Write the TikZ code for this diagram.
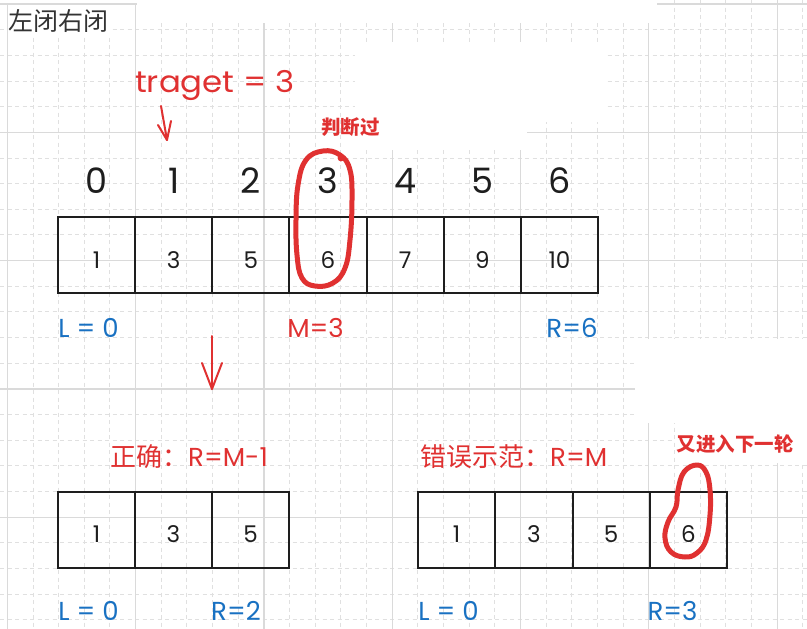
\documentclass[tikz,border=0pt]{standalone}
\usepackage{fontspec}
\setmainfont{Poppins}
\newfontfamily\widefont[FakeStretch=1.08]{Poppins}
\newfontfamily\cjk{Noto Sans CJK SC}
\definecolor{exred}{HTML}{E03131}
\definecolor{exblue}{HTML}{1971C2}
\definecolor{exblack}{HTML}{1E1E1E}
\definecolor{titlegray}{HTML}{333333}
\definecolor{gridsolid}{HTML}{DADADA}
\definecolor{griddash}{HTML}{E0E0E0}
\tikzset{
  gridd/.style={draw=griddash, line width=0.9pt, dash pattern=on 4pt off 3.5pt},
  grids/.style={draw=gridsolid, line width=1.2pt},
  cell/.style={draw=exblack, line width=2pt, minimum height=76pt, inner sep=0pt,
    text height=26pt, text depth=0pt, text=exblack, font=\fontsize{23}{26}\selectfont},
  idx/.style={inner sep=0pt, text=exblack, font=\fontsize{35}{40}\selectfont},
  bluelab/.style={inner sep=0pt, text=exblue, font=\fontsize{26}{30}\selectfont},
  redlab/.style={inner sep=0pt, text=exred, font=\fontsize{26}{30}\selectfont},
  boldnote/.style={inner sep=0pt, text=exred, font=\cjk\bfseries\fontsize{19.5}{22}\selectfont},
  redarrow/.style={draw=exred, line width=2pt, line cap=round, line join=round},
  redloop/.style={draw=exred, line width=5pt, line cap=round, line join=round},
  patch/.style={fill=white, draw=none}
}
\begin{document}
\begin{tikzpicture}[x=1pt, y=-1pt]
\useasboundingbox (0,0) rectangle (807,629);
\fill[white] (0,0) rectangle (807,629);
% grid
\foreach \i in {-1,...,31} \draw[gridd] ({7.3+25.66*\i},0) -- ({7.3+25.66*\i},629);
\foreach \j in {-1,...,24} \draw[gridd] (0,{4+25.66*\j}) -- (807,{4+25.66*\j});
\foreach \i in {0,5,...,30} \draw[grids] ({7.3+25.66*\i},0) -- ({7.3+25.66*\i},629);
\foreach \j in {0,5,...,20} \draw[grids] (0,{4+25.66*\j}) -- (807,{4+25.66*\j});
% blank areas of the board
\fill[patch] (0,-2) rectangle (137,3);
\fill[patch] (137,-2) rectangle (657,23);
\fill[patch] (8,5) rectangle (111,34);
\fill[patch] (355,42) rectangle (527,150);
\fill[patch] (527,42) rectangle (605,122);
\fill[patch] (635,339) rectangle (810,423);
\fill[patch] (675,423) rectangle (810,463);
% title
\node[inner sep=0pt, anchor=west, text=titlegray, font=\cjk\fontsize{25}{28}\selectfont] (title) at (8,21) {左闭右闭};
% target
\node[inner sep=0pt, anchor=base west, text=exred, font=\widefont\fontsize{30}{34}\selectfont] (target) at (135,92) {traget = 3};
\node[boldnote] (judged) at (350.5,127.5) {判断过};
% top array
\foreach \v [count=\k from 0] in {1,3,5,6,7,9,10}
  \node[cell, minimum width=77.14pt] (t\k) at ({58+77.14*(\k+0.5)},255) {\v};
\foreach \k in {0,...,6}
  \node[idx] (ix\k) at ({58+77.14*(\k+0.5)},180.5) {\k};
\node[bluelab] (tL) at (88.5,328) {L = 0};
\node[redlab] (tM) at (315.5,328) {M=3};
\node[bluelab] (tR) at (572,328) {R=6};
% arrows
\coordinate (a1s) at (161,106);
\coordinate (a1e) at (167,140);
\coordinate (a1l) at (158,125);
\coordinate (a1r) at (171,121);
\draw[redarrow] (a1s) -- (a1e);
\draw[redarrow] (a1l) -- (a1e) -- (a1r);
\coordinate (a2s) at (212,336);
\coordinate (a2e) at (212,389);
\coordinate (a2l) at (202,363);
\coordinate (a2r) at (222,363);
\draw[redarrow] (a2s) -- (a2e);
\draw[redarrow] (a2l) -- (a2e) -- (a2r);
% headings
\node[redlab, anchor=base west] (good) at (110,466) {{\cjk 正确：}R=M-1};
\node[redlab, anchor=base west] (bad) at (420,466) {{\cjk 错误示范：}R=M};
\node[boldnote] (again) at (735,444) {又进入下一轮};
% bottom-left array
\foreach \v [count=\k from 0] in {1,3,5}
  \node[cell, minimum width=77pt] (bl\k) at ({58+77*(\k+0.5)},529.5) {\v};
\node[bluelab] (blL) at (88.5,611) {L = 0};
\node[bluelab] (blR) at (236,611) {R=2};
% bottom-right array
\foreach \v [count=\k from 0] in {1,3,5,6}
  \node[cell, minimum width=77.25pt] (br\k) at ({418+77.25*(\k+0.5)},529.5) {\v};
\node[bluelab] (brL) at (448.5,611) {L = 0};
\node[bluelab] (brR) at (672.5,611) {R=3};
% hand-drawn loops
\draw[redloop] plot[smooth cycle, tension=0.7] coordinates {(323,151) (340,155) (350,170) (352,200) (350,240) (345,268) (333,283) (315,286) (302,278) (297,255) (296,220) (298,185) (306,160)};
\fill[exred] (341,158) circle (3.4pt);
\draw[redloop] plot[smooth cycle, tension=0.7] coordinates {(697,465) (706,472) (710,490) (710,515) (706,540) (697,553) (685,557) (671,552) (665,538) (668,522) (676,507) (678,490) (684,472)};
\end{tikzpicture}
\end{document}
